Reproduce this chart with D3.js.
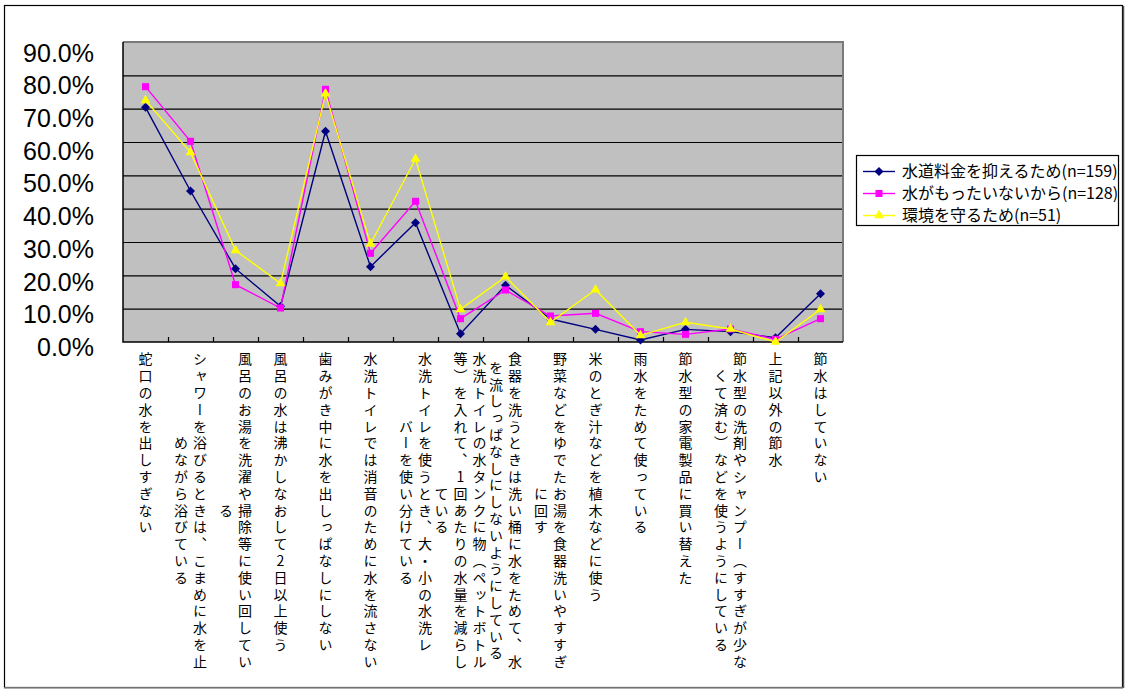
<!DOCTYPE html>
<html>
<head>
<meta charset="utf-8">
<script src="https://cdn.jsdelivr.net/npm/d3@7/dist/d3.min.js"></script>
<style>
  html, body { margin: 0; padding: 0; background: #fff; }
  svg { display: block; }
  .cat-label {
    font-family: "Noto Sans CJK JP", sans-serif;
    font-size: 14px;
    writing-mode: vertical-rl;
    text-orientation: upright;
    letter-spacing: 2.8px;
    fill: #000;
  }
</style>
</head>
<body>
<svg id="chart" width="1126" height="690"></svg>
<script>
// Category labels, one entry per category, split into the columns they wrap to
const categories = [
  ["蛇口の水を出しすぎない"],
  ["シャワーを浴びるときは、こまめに水を止", "めながら浴びている"],
  ["風呂のお湯を洗濯や掃除等に使い回してい", "る"],
  ["風呂の水は沸かしなおして2日以上使う"],
  ["歯みがき中に水を出しっぱなしにしない"],
  ["水洗トイレでは消音のために水を流さない"],
  ["水洗トイレを使うとき、大・小の水洗レ", "バーを使い分けている"],
  ["水洗トイレの水タンクに物（ペットボトル", "等）を入れて、1回あたりの水量を減らし", "ている"],
  ["食器を洗うときは洗い桶に水をためて、水", "を流しっぱなしにしないようにしている"],
  ["野菜などをゆでたお湯を食器洗いやすすぎ", "に回す"],
  ["米のとぎ汁などを植木などに使う"],
  ["雨水をためて使っている"],
  ["節水型の家電製品に買い替えた"],
  ["節水型の洗剤やシャンプー（すすぎが少な", "くて済む）などを使うようにしている"],
  ["上記以外の節水"],
  ["節水はしていない"]
];

const seriesNames = [
  "水道料金を抑えるため(n=159)",
  "水がもったいないから(n=128)",
  "環境を守るため(n=51)"
];

// Percentages per category
const saveMoney   = [70.4, 45.3, 22.0, 10.7, 63.2, 22.6, 35.8, 2.5, 17.0, 6.9, 3.8, 0.6, 3.8, 3.1, 1.3, 14.5];
const wasteful    = [76.6, 60.2, 17.2, 10.2, 75.8, 26.6, 42.2, 7.0, 15.6, 7.8, 8.6, 3.1, 2.3, 3.9, 0.8, 7.0];
const environment = [72.5, 56.9, 27.5, 17.6, 74.5, 29.4, 54.9, 9.8, 19.6, 5.9, 15.7, 2.0, 5.9, 3.9, 0.0, 9.8];

const yTicks = [0, 10, 20, 30, 40, 50, 60, 70, 80, 90];

const seriesColors = ["#000080", "#FF00FF", "#FFFF00"];

// Excel-style square diamond marker
const squareDiamond = {
  draw(ctx, size) {
    const r = Math.sqrt(size / 2);
    ctx.moveTo(0, -r); ctx.lineTo(r, 0); ctx.lineTo(0, r); ctx.lineTo(-r, 0); ctx.closePath();
  }
};
const markerTypes = [
  d3.symbol().type(squareDiamond).size(40),
  d3.symbol().type(d3.symbolSquare).size(50),
  d3.symbol().type(d3.symbolTriangle).size(42)
];

const series = [saveMoney, wasteful, environment].map((values, i) => ({
  name: seriesNames[i], values, color: seriesColors[i], marker: markerTypes[i]
}));

const svg = d3.select("#chart");

// Outer chart frame
svg.append("rect")
  .attr("x", 4.5).attr("y", 5.5).attr("width", 1118).attr("height", 682)
  .attr("fill", "#fff").attr("stroke", "#000").attr("stroke-width", 1.2);
svg.append("line")
  .attr("x1", 4).attr("x2", 1123).attr("y1", 688).attr("y2", 688)
  .attr("stroke", "#999").attr("stroke-width", 1.5);
svg.append("line")
  .attr("x1", 1123.5).attr("x2", 1123.5).attr("y1", 6).attr("y2", 688)
  .attr("stroke", "#555").attr("stroke-width", 1.5);

const plot = { left: 123, top: 42, right: 843, bottom: 342 };

const catNames = categories.map(c => c.join(""));
const x = d3.scaleBand().domain(catNames).range([plot.left, plot.right]);
const xBound = d3.scaleLinear().domain([0, categories.length]).range([plot.left, plot.right]);
const y = d3.scaleLinear().domain([0, 90]).range([plot.bottom, plot.top]);
// Tick labels sit on a slightly tighter spacing than the gridlines
const yLabel = d3.scaleLinear().domain([0, 90]).range([346.5, 52]);

// Plot background
svg.append("rect")
  .attr("x", plot.left).attr("y", plot.top)
  .attr("width", plot.right - plot.left).attr("height", plot.bottom - plot.top)
  .attr("fill", "#C0C0C0");

// Horizontal gridlines
const grid = svg.append("g")
  .attr("transform", `translate(${plot.left},0)`)
  .call(d3.axisLeft(y).tickValues(yTicks.filter(t => t > 0 && t < 90))
    .tickSize(-(plot.right - plot.left)).tickFormat(""));
grid.select(".domain").remove();
grid.selectAll(".tick line").attr("stroke", "#000").attr("stroke-width", 1.2);

// Plot border: grey top and right, black axes left and bottom
svg.append("path")
  .attr("d", `M${plot.left},${plot.top}H${plot.right}V${plot.bottom}`)
  .attr("fill", "none").attr("stroke", "#7a7a7a").attr("stroke-width", 2);
svg.append("path")
  .attr("d", `M${plot.left},${plot.top}V${plot.bottom}H${plot.right}`)
  .attr("fill", "none").attr("stroke", "#000").attr("stroke-width", 1.5);

// Category boundary ticks pointing into the plot
const xAxis = svg.append("g")
  .attr("transform", `translate(0,${plot.bottom})`)
  .call(d3.axisBottom(xBound).tickValues(d3.range(1, categories.length))
    .tickSize(-5).tickFormat(""));
xAxis.select(".domain").remove();
xAxis.selectAll(".tick line").attr("stroke", "#000").attr("stroke-width", 1.2);

// Y tick labels
const yAxis = svg.append("g")
  .attr("transform", "translate(94,0)")
  .call(d3.axisLeft(yLabel).tickValues(yTicks).tickSize(0).tickPadding(0)
    .tickFormat(d => d.toFixed(1) + "%"));
yAxis.select(".domain").remove();
yAxis.selectAll(".tick text")
  .attr("font-family", "'Liberation Sans', Arial, sans-serif")
  .attr("font-size", 25)
  .attr("fill", "#000")
  .attr("dy", "0.36em");

// Vertical category labels; wrapped columns read right to left and are centred on each other
const pitch = 16.8;
const colGap = 19;
const labelTop = 352;
categories.forEach((lines, i) => {
  const cx = x(catNames[i]) + x.bandwidth() / 2;
  const maxLen = d3.max(lines, l => Array.from(l).length);
  const midY = labelTop + maxLen * pitch / 2;
  lines.forEach((line, j) => {
    const colX = cx + (lines.length - 1) / 2 * colGap - j * colGap;
    svg.append("text")
      .attr("class", "cat-label")
      .attr("x", colX)
      .attr("y", midY)
      .attr("text-anchor", "middle")
      .text(line);
  });
});

// Series lines and markers
const cx = (d, i) => x(catNames[i]) + x.bandwidth() / 2;
const line = d3.line().x((d, i) => cx(d, i)).y(d => y(d));

series.forEach(s => {
  const g = svg.append("g");
  g.append("path")
    .datum(s.values)
    .attr("d", line)
    .attr("fill", "none")
    .attr("stroke", s.color)
    .attr("stroke-width", 1.4);
  g.selectAll("path.marker")
    .data(s.values)
    .join("path")
    .attr("class", "marker")
    .attr("transform", (d, i) => `translate(${cx(d, i)},${y(d)})`)
    .attr("d", s.marker())
    .attr("fill", s.color);
});

// Legend
const legend = svg.append("g");
legend.append("rect")
  .attr("x", 856.5).attr("y", 155.5).attr("width", 262).attr("height", 70)
  .attr("fill", "#fff").attr("stroke", "#000").attr("stroke-width", 1.2);
const rowY = [171.5, 193.5, 215.5];
series.forEach((s, i) => {
  const ly = rowY[i];
  legend.append("line")
    .attr("x1", 863).attr("x2", 895).attr("y1", ly).attr("y2", ly)
    .attr("stroke", s.color).attr("stroke-width", 1.4);
  legend.append("path")
    .attr("transform", `translate(879,${ly})`)
    .attr("d", s.marker())
    .attr("fill", s.color);
  legend.append("text")
    .attr("x", 902).attr("y", ly)
    .attr("dy", "0.36em")
    .attr("font-family", "'Noto Sans CJK JP', sans-serif")
    .attr("font-size", 16)
    .attr("fill", "#000")
    .text(s.name);
});
</script>
</body>
</html>
